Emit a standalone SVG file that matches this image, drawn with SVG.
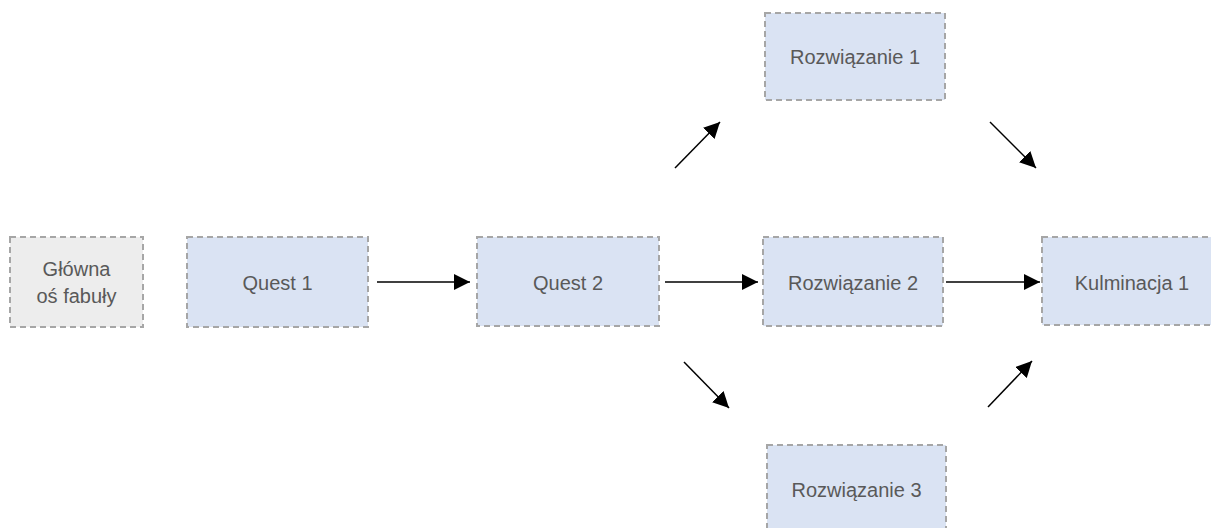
<svg xmlns="http://www.w3.org/2000/svg" width="1211" height="528" viewBox="0 0 1211 528">
<style>
.box{fill:#dae3f3;stroke:#a6a6a6;stroke-width:2;stroke-dasharray:6 4}
.gbox{fill:#ededed;stroke:#a6a6a6;stroke-width:2;stroke-dasharray:6 4}
.t{font-family:"Liberation Sans",Arial,sans-serif;font-size:20px;fill:#595959;text-anchor:middle}
.c{stroke:#000;stroke-width:1.5;fill:none;marker-end:url(#ah)}
</style>
<defs>
<marker id="ah" markerUnits="userSpaceOnUse" markerWidth="16" markerHeight="16" refX="16" refY="8" orient="auto">
<path d="M0,0 L16,8 L0,16 z" fill="#000"/>
</marker>
</defs>
<rect width="1211" height="528" fill="#fff"/>
<g id="glowna">
<rect class="gbox" x="10" y="237" width="133" height="90"/>
<text class="t" x="76.5" y="276">Główna</text>
<text class="t" x="76.5" y="303">oś fabuły</text>
</g>
<g id="quest1">
<rect class="box" x="187" y="237" width="181" height="90"/>
<text class="t" x="277.5" y="290">Quest 1</text>
</g>
<g id="quest2">
<rect class="box" x="477" y="237" width="182" height="89"/>
<text class="t" x="568" y="290">Quest 2</text>
</g>
<g id="roz1">
<rect class="box" x="765" y="13" width="180" height="87"/>
<text class="t" x="855" y="64">Rozwiązanie 1</text>
</g>
<g id="roz2">
<rect class="box" x="763" y="237" width="180" height="89"/>
<text class="t" x="853" y="290">Rozwiązanie 2</text>
</g>
<g id="roz3">
<rect class="box" x="767" y="445" width="179" height="88"/>
<text class="t" x="856.5" y="497">Rozwiązanie 3</text>
</g>
<g id="kulm">
<rect class="box" x="1042" y="237" width="180" height="88"/>
<text class="t" x="1132" y="290">Kulminacja 1</text>
</g>
<g id="connectors">
<line class="c" x1="377" y1="282" x2="470" y2="282"/>
<line class="c" x1="665" y1="282" x2="758" y2="282"/>
<line class="c" x1="946" y1="282" x2="1040" y2="282"/>
<line class="c" x1="675" y1="168" x2="720" y2="122"/>
<line class="c" x1="990" y1="122" x2="1036" y2="168"/>
<line class="c" x1="684" y1="362" x2="729" y2="408"/>
<line class="c" x1="988" y1="407" x2="1032" y2="361"/>
</g>
</svg>
